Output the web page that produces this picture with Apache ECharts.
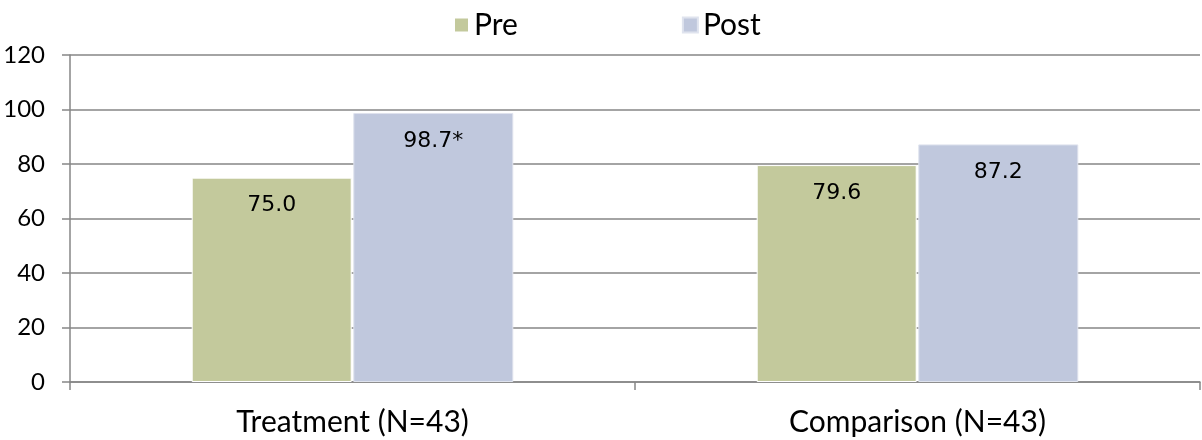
<!DOCTYPE html>
<html><head><meta charset="utf-8">
<script src="https://cdn.jsdelivr.net/npm/echarts@6/dist/echarts.min.js"></script>
<style>html,body{margin:0;padding:0;background:#fff}#c{width:1202px;height:440px}</style>
</head><body><div id="c"></div>
<script>
const categories = ['Treatment (N=43)', 'Comparison (N=43)'];
const preValues = [75.0, 79.6];
const postValues = [98.7, 87.2];
const preLabels = ['75.0', '79.6'];
const postLabels = ['98.7*', '87.2'];
const yTicks = [0, 20, 40, 60, 80, 100, 120];

const chart = echarts.init(document.getElementById('c'));
const font = 'Lato';
chart.setOption({
  animation: false,
  legend: {
    top: 5, left: 448,
    itemWidth: 15, itemHeight: 15, itemGap: 164,
    icon: 'rect',
    textStyle: { fontFamily: font, fontSize: 30, color: '#000' },
    data: ['Pre', 'Post']
  },
  grid: { left: 70, right: 2, top: 55, bottom: 58, containLabel: false },
  xAxis: {
    type: 'category', data: categories,
    axisLine: { lineStyle: { color: '#868686', width: 1.5 } },
    axisTick: { show: true, alignWithLabel: false, length: 8, lineStyle: { color: '#868686', width: 1.5 } },
    axisLabel: { fontFamily: font, fontSize: 30, color: '#000', margin: 25 }
  },
  yAxis: {
    type: 'value', min: 0, max: 120, interval: 20,
    axisLine: { show: true, lineStyle: { color: '#868686', width: 1.5 } },
    axisTick: { show: true, length: 8, lineStyle: { color: '#868686', width: 1.5 } },
    splitLine: { lineStyle: { color: '#868686', width: 1.5 } },
    axisLabel: { fontFamily: font, fontSize: 24, color: '#000', margin: 25,
      formatter: v => yTicks.includes(v) ? String(v) : '' }
  },
  series: [
    { name: 'Pre', type: 'bar', data: preValues, barWidth: 160, barGap: '1%',
      itemStyle: { color: '#c3c99c', borderColor: '#ffffff', borderWidth: 1 },
      label: { show: true, position: 'insideTop', distance: 17, fontFamily: 'DejaVu Sans', fontSize: 22, color: '#000',
        formatter: p => preLabels[p.dataIndex] } },
    { name: 'Post', type: 'bar', data: postValues, barWidth: 160,
      itemStyle: { color: '#c0c8dd', borderColor: '#dfe3ee', borderWidth: 1 },
      label: { show: true, position: 'insideTop', distance: 17, fontFamily: 'DejaVu Sans', fontSize: 22, color: '#000',
        formatter: p => postLabels[p.dataIndex] } }
  ]
});
</script></body></html>
